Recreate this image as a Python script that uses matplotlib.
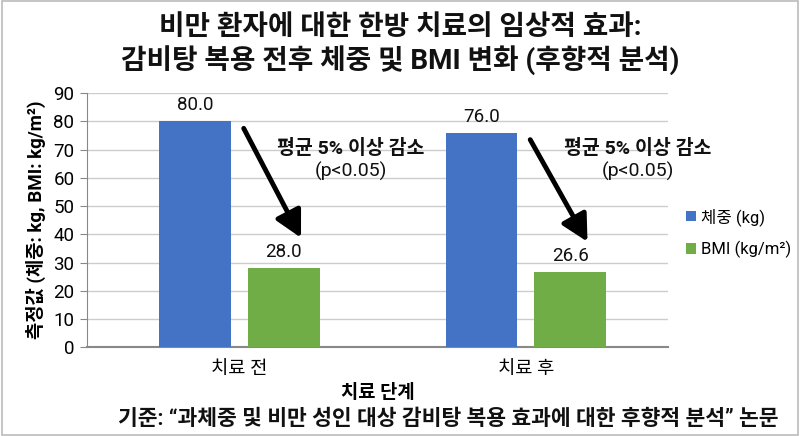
import numpy as np
import matplotlib
matplotlib.use("Agg")
import matplotlib.pyplot as plt
from matplotlib.patches import Rectangle

plt.rcParams['font.family'] = ['Roboto', 'Noto Sans CJK KR', 'DejaVu Sans']

# data
stages = ["치료 전", "치료 후"]
weight = [80.0, 76.0]
bmi = [28.0, 26.6]
series_names = ["체중 (kg)", "BMI (kg/m²)"]
note_main = "평균 5% 이상 감소"
note_p = "(p<0.05)"

title = "비만 환자에 대한 한방 치료의 임상적 효과:\n감비탕 복용 전후 체중 및 BMI 변화 (후향적 분석)"
source = "기준: “과체중 및 비만 성인 대상 감비탕 복용 효과에 대한 후향적 분석” 논문"

blue = "#4472C4"
green = "#70AD47"

fig = plt.figure(figsize=(8, 4.36), dpi=100)
ax = fig.add_axes([0.10875, 0.203, 0.72625, 0.5837])

x = np.arange(len(stages))
w = 0.25
off = 0.155
b1 = ax.bar(x - off, weight, w, color=blue, label=series_names[0], zorder=3)
b2 = ax.bar(x + off, bmi, w, color=green, label=series_names[1], zorder=3)

for bars in (b1, b2):
    for r in bars:
        ax.annotate(f"{r.get_height():.1f}", (r.get_x() + r.get_width() / 2, r.get_height()),
                    xytext=(0, 11.5), textcoords="offset points", ha="center", va="center",
                    fontsize=13.5, color="#111111")

# arrows + notes
for i in range(len(stages)):
    ax.annotate("", xy=(x[i] + off + 0.06, bmi[i] + 10.8),
                xytext=(x[i] + 0.015, weight[i] - 2.5),
                arrowprops=dict(arrowstyle="-|>,head_length=0.8,head_width=0.42",
                                lw=3.5, color="black", shrinkA=0, shrinkB=0,
                                mutation_scale=20), zorder=5)
    ax.text(x[i] + 0.39, 70.3, note_main, ha="center", va="center",
            fontsize=14, fontweight="bold", color="#111111", zorder=6)
    ax.text(x[i] + 0.39, 62.2, note_p, ha="center", va="center",
            fontsize=14, color="#111111", zorder=6)

ax.set_xlim(-0.532, 1.496)
ax.set_ylim(0, 90)
ax.set_yticks(np.arange(0, 91, 10))
ax.set_xticks(x)
ax.set_xticklabels(stages, fontsize=13.5)
ax.tick_params(axis="y", labelsize=13.5, length=5, color="#888888", pad=4)
ax.tick_params(axis="x", length=0, pad=9)
ax.grid(axis="y", color="#cccccc", lw=1, zorder=0)
for s in ("top", "right"):
    ax.spines[s].set_visible(False)
ax.spines["left"].set_color("#888888")
ax.spines["bottom"].set_color("#888888")
ax.spines["bottom"].set_linewidth(1.5)

ax.set_xlabel("치료 단계", fontsize=13.5, fontweight="bold", labelpad=4)
ax.set_ylabel("측정값 (체중: kg, BMI: kg/m²)", fontsize=13.5, fontweight="bold", labelpad=5)

ax.legend(loc="center left", bbox_to_anchor=(1.005, 0.45), frameon=False,
          fontsize=12, handlelength=0.6, handleheight=0.6, handletextpad=0.3,
          labelspacing=0.9)

fig.text(0.5, 0.968, title, ha="center", va="top", fontsize=20, fontweight="bold",
         linespacing=1.22, color="#111111")
fig.text(0.56, 0.04, source, ha="center", va="center", fontsize=15.5, fontweight="bold",
         color="#111111")

fig.patches.append(Rectangle((0.002, 0.002), 0.996, 0.996, transform=fig.transFigure,
                             fill=False, edgecolor="#bbbbbb", lw=1.2))

fig.savefig("out.png", dpi=100)
